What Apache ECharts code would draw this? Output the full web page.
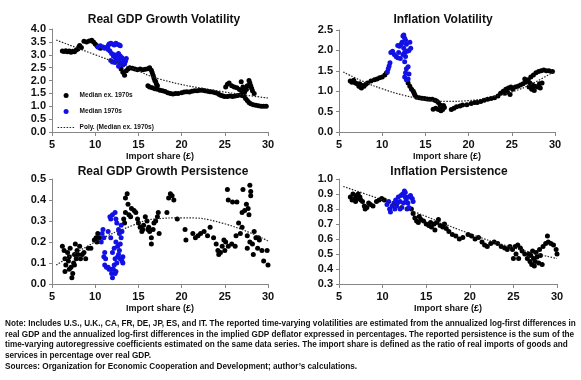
<!DOCTYPE html>
<html><head><meta charset="utf-8">
<script src="https://cdn.jsdelivr.net/npm/echarts@6/dist/echarts.min.js"></script>
<style>html,body{margin:0;padding:0;background:#fff}#c{width:581px;height:380px}</style>
</head><body><div id="c"></div>
<script>
// ---------- DATA (x = import share %, y = value) ----------
var xTicks = [5, 10, 15, 20, 25, 30];
var titles = ['Real GDP Growth Volatility', 'Inflation Volatility', 'Real GDP Growth Persistence', 'Inflation Persistence'];
var seriesNames = ['Median ex. 1970s', 'Median 1970s', 'Poly. (Median ex. 1970s)'];

var gdpVolEx = [[6.2,3.15],[6.4,3.13],[6.6,3.16],[6.8,3.12],[7.0,3.15],[7.2,3.1],[7.4,3.14],[7.6,3.12],[7.8,3.18],[8.0,3.22],[8.1,3.3],[8.2,3.36],[8.4,3.28],[8.7,3.52],[9.0,3.5],[9.3,3.53],[9.6,3.56],[9.8,3.5],[10.0,3.42],[10.2,3.35],[10.4,3.3],[10.6,3.25],[13.0,2.45],[13.2,2.32],[13.4,2.2],[13.6,2.38],[13.8,2.45],[14.0,2.5],[14.3,2.48],[14.6,2.45],[14.9,2.42],[15.2,2.45],[15.5,2.42],[15.8,2.44],[16.1,2.46],[16.3,2.5],[16.5,2.4],[16.6,2.3],[16.7,2.2],[16.8,2.1],[16.9,2.0],[17.0,1.95],[17.1,1.85],[17.2,1.8],[16.1,1.8],[16.3,1.75],[16.6,1.72],[16.9,1.68],[17.2,1.66],[17.5,1.62],[17.8,1.6],[18.1,1.57],[18.4,1.52],[18.7,1.5],[19.0,1.48],[19.3,1.5],[19.6,1.5],[20.0,1.52],[20.3,1.55],[20.6,1.56],[20.9,1.55],[21.2,1.58],[21.5,1.6],[21.8,1.6],[22.1,1.62],[22.4,1.62],[22.7,1.6],[23.0,1.58],[23.3,1.56],[23.6,1.55],[23.9,1.52],[24.2,1.5],[24.4,1.45],[24.6,1.42],[24.8,1.4],[25.0,1.38],[25.3,1.38],[25.6,1.4],[25.9,1.38],[26.2,1.4],[26.5,1.42],[26.8,1.45],[27.0,1.42],[25.1,1.75],[25.3,1.85],[25.5,1.9],[25.8,1.8],[26.1,1.75],[26.4,1.72],[26.7,1.65],[27.0,1.6],[27.3,1.55],[27.5,1.65],[27.6,1.8],[27.8,2.0],[27.9,1.9],[28.0,1.8],[28.1,1.7],[28.2,1.6],[28.4,1.5],[27.2,1.4],[27.4,1.3],[27.6,1.22],[27.8,1.15],[28.0,1.1],[28.3,1.06],[28.6,1.04],[28.9,1.02],[29.2,1.0],[29.5,1.0],[29.8,1.0],[26.9,1.95],[27.1,1.75]];
var gdpVol70 = [[10.3,3.3],[10.6,3.35],[10.9,3.3],[11.1,3.25],[11.3,3.28],[11.5,3.35],[11.6,3.42],[11.8,3.45],[12.0,3.42],[12.2,3.38],[12.4,3.45],[12.6,3.4],[12.8,3.38],[12.9,3.35],[11.7,3.15],[11.9,3.05],[12.1,2.95],[12.3,2.9],[12.5,2.98],[12.7,3.05],[12.9,2.95],[13.1,2.88],[13.3,2.8],[13.5,2.75],[13.4,2.65],[13.2,2.6],[12.9,2.7],[12.6,2.75],[12.3,2.7],[12.0,2.72],[11.8,2.78],[12.4,2.8],[12.8,2.85],[13.0,2.62],[12.7,2.55],[12.2,3.0],[11.5,3.2],[13.6,2.85]];
var gdpVolTrend = [[5.5,3.57],[10,3.0],[14.4,2.45],[17.5,2.05],[23.6,1.63],[30,1.32]];

var infVolEx = [[6.3,1.25],[6.5,1.22],[6.7,1.27],[6.9,1.2],[7.1,1.18],[7.3,1.12],[7.5,1.1],[7.7,1.14],[7.9,1.12],[8.1,1.17],[8.3,1.2],[7.4,1.18],[7.6,1.08],[8.7,1.25],[9.1,1.28],[9.4,1.3],[9.7,1.33],[10.0,1.35],[10.3,1.4],[10.5,1.45],[13.0,1.2],[13.2,1.12],[13.4,1.05],[13.6,1.0],[13.7,0.95],[13.8,0.9],[14.0,0.85],[14.3,0.84],[14.6,0.83],[14.9,0.82],[15.2,0.81],[15.5,0.8],[15.8,0.8],[16.1,0.78],[16.3,0.76],[16.5,0.72],[16.7,0.66],[16.9,0.6],[17.0,0.55],[16.8,0.52],[16.5,0.55],[16.2,0.58],[15.9,0.56],[17.2,0.6],[17.1,0.65],[18.0,0.55],[18.3,0.58],[18.6,0.62],[19.0,0.64],[19.3,0.66],[19.8,0.67],[20.3,0.7],[20.7,0.72],[21.0,0.72],[21.4,0.75],[21.8,0.78],[22.2,0.8],[22.6,0.82],[23.0,0.84],[23.4,0.88],[23.7,0.95],[24.0,1.0],[24.3,1.05],[24.6,1.08],[24.9,1.1],[24.2,0.95],[24.5,0.98],[24.8,0.92],[25.1,1.05],[25.4,1.1],[25.7,1.12],[26.0,1.15],[26.3,1.18],[26.6,1.22],[26.9,1.28],[27.2,1.35],[27.5,1.4],[27.8,1.45],[28.1,1.48],[28.4,1.5],[28.7,1.52],[29.0,1.5],[29.3,1.5],[29.7,1.48],[26.5,1.3],[26.8,1.25],[27.1,1.2],[27.4,1.15],[27.7,1.12],[28.0,1.1],[28.3,1.08],[27.3,1.05],[27.6,1.02],[28.2,1.18],[28.5,1.2],[27.0,1.1]];
var infVol70 = [[10.6,1.47],[10.7,1.55],[10.8,1.62],[10.9,1.7],[11.0,1.95],[11.2,1.98],[11.4,1.9],[11.6,1.85],[11.8,1.82],[11.9,1.95],[12.0,2.1],[12.2,2.15],[12.3,2.2],[12.4,2.35],[12.5,2.38],[12.6,2.3],[12.7,2.25],[12.8,2.15],[12.5,2.05],[12.6,1.95],[12.4,1.9],[12.7,1.85],[12.9,1.98],[13.1,2.0],[13.3,2.05],[13.2,2.2],[12.6,1.72],[12.8,1.55],[12.7,1.45],[12.6,1.35],[12.8,1.28],[13.0,1.3],[13.1,1.42],[13.0,1.6],[11.8,2.12],[12.1,1.8]];
var infVolTrend = [[5.5,1.47],[8,1.22],[10,1.06],[12.5,0.9],[15,0.8],[17.5,0.75],[20,0.77],[22.5,0.85],[25,0.98],[27.5,1.2],[30,1.5]];

var gdpPerEx = [[6.2,0.18],[6.4,0.16],[6.5,0.12],[6.6,0.09],[6.5,0.06],[6.8,0.15],[6.9,0.11],[7.0,0.13],[7.1,0.17],[7.2,0.08],[7.3,0.03],[7.4,0.05],[7.5,0.1],[7.6,0.14],[7.7,0.19],[7.8,0.12],[7.9,0.16],[8.0,0.14],[8.2,0.18],[8.3,0.12],[8.5,0.14],[8.7,0.15],[8.9,0.12],[9.2,0.17],[9.5,0.17],[9.9,0.21],[10.1,0.22],[10.3,0.24],[10.5,0.22],[10.2,0.2],[7.0,0.07],[7.6,0.09],[13.3,0.31],[13.5,0.34],[13.5,0.41],[13.7,0.43],[13.8,0.38],[13.4,0.29],[13.9,0.33],[14.1,0.32],[14.2,0.36],[14.5,0.35],[14.7,0.34],[14.9,0.31],[15.0,0.29],[15.2,0.27],[15.4,0.25],[15.6,0.28],[15.8,0.32],[16.0,0.3],[16.2,0.27],[16.3,0.25],[16.5,0.22],[16.5,0.19],[16.7,0.26],[16.8,0.29],[17.0,0.3],[17.2,0.32],[17.3,0.34],[17.4,0.24],[15.5,0.26],[16.1,0.26],[18.3,0.34],[18.5,0.41],[18.7,0.43],[18.9,0.42],[19.1,0.4],[19.5,0.31],[20.4,0.26],[20.5,0.21],[21.3,0.24],[21.6,0.22],[21.9,0.23],[22.2,0.24],[22.6,0.25],[23.0,0.23],[23.3,0.27],[23.7,0.22],[24.0,0.19],[24.2,0.16],[24.3,0.14],[24.5,0.15],[24.7,0.18],[24.9,0.21],[25.1,0.2],[25.4,0.18],[25.8,0.19],[26.2,0.18],[25.3,0.45],[25.4,0.4],[25.9,0.39],[26.4,0.39],[26.6,0.29],[26.8,0.24],[27.0,0.27],[27.1,0.45],[27.0,0.34],[27.3,0.35],[27.5,0.38],[27.7,0.36],[27.9,0.47],[28.0,0.44],[28.0,0.42],[27.8,0.33],[27.6,0.23],[27.9,0.2],[28.2,0.19],[28.4,0.25],[28.6,0.22],[28.8,0.17],[29.0,0.21],[29.3,0.16],[29.5,0.11],[29.9,0.16],[30.0,0.09],[28.3,0.14],[27.6,0.17],[28.9,0.22],[26.3,0.23],[25.0,0.16]];
var gdpPer70 = [[10.7,0.2],[10.8,0.24],[10.9,0.26],[11.0,0.22],[11.0,0.13],[11.1,0.15],[11.2,0.12],[11.1,0.09],[11.3,0.08],[11.5,0.08],[11.6,0.07],[11.8,0.07],[11.9,0.05],[12.0,0.03],[12.1,0.07],[12.3,0.05],[12.4,0.06],[12.2,0.09],[12.5,0.1],[12.6,0.13],[12.7,0.14],[12.9,0.12],[13.1,0.11],[13.2,0.13],[12.8,0.16],[12.6,0.18],[12.9,0.19],[13.0,0.22],[12.8,0.24],[13.1,0.25],[12.4,0.2],[12.2,0.17],[12.0,0.15],[11.8,0.22],[11.7,0.32],[11.8,0.31],[12.0,0.33],[12.3,0.34],[12.4,0.31],[12.5,0.29],[12.7,0.26],[13.0,0.28],[11.5,0.25],[12.3,0.12],[13.2,0.1]];
var gdpPerTrend = [[5.5,0.09],[10,0.2],[14.4,0.28],[17,0.31],[20,0.315],[24.7,0.29],[30,0.205]];

var infPerEx = [[6.3,0.88],[6.5,0.86],[6.6,0.9],[6.8,0.87],[7.0,0.89],[7.2,0.9],[7.4,0.88],[7.5,0.86],[7.7,0.85],[7.9,0.82],[8.0,0.8],[8.2,0.81],[8.4,0.84],[8.6,0.83],[8.9,0.82],[7.3,0.87],[6.9,0.85],[9.3,0.85],[9.6,0.86],[9.9,0.87],[10.2,0.86],[13.3,0.8],[13.5,0.77],[13.7,0.74],[13.9,0.72],[14.1,0.71],[14.4,0.73],[14.7,0.72],[15.0,0.7],[15.3,0.69],[15.6,0.68],[15.9,0.7],[16.2,0.71],[16.4,0.73],[16.6,0.69],[16.9,0.68],[17.1,0.7],[17.3,0.67],[16.0,0.66],[15.5,0.71],[14.2,0.75],[17.6,0.65],[18.0,0.63],[18.4,0.62],[18.8,0.6],[19.2,0.61],[19.8,0.63],[20.2,0.62],[20.6,0.6],[21.0,0.61],[21.4,0.58],[21.7,0.56],[22.0,0.55],[22.4,0.57],[22.8,0.58],[23.2,0.57],[23.6,0.55],[24.0,0.54],[24.3,0.53],[24.6,0.55],[24.9,0.53],[25.2,0.55],[25.5,0.56],[25.8,0.54],[25.0,0.47],[25.3,0.5],[25.6,0.47],[26.0,0.52],[26.3,0.5],[26.6,0.47],[26.9,0.45],[27.1,0.43],[27.3,0.47],[27.5,0.45],[27.7,0.48],[27.9,0.44],[28.1,0.49],[28.3,0.43],[26.8,0.5],[27.2,0.52],[27.6,0.51],[28.0,0.53],[28.4,0.55],[28.7,0.57],[29.0,0.58],[29.3,0.57],[29.6,0.56],[28.9,0.62],[29.9,0.53],[30.0,0.5],[27.4,0.42],[27.0,0.49]];
var infPer70 = [[10.5,0.83],[10.7,0.85],[10.8,0.8],[10.9,0.78],[11.1,0.82],[11.3,0.84],[11.5,0.86],[11.6,0.82],[11.8,0.88],[12.0,0.85],[12.1,0.89],[12.3,0.9],[12.5,0.92],[12.6,0.88],[12.4,0.84],[12.2,0.81],[12.7,0.86],[12.9,0.84],[13.0,0.88],[13.2,0.89],[13.4,0.87],[13.5,0.85],[13.0,0.81],[12.8,0.8],[12.0,0.8],[11.4,0.8],[12.6,0.91],[11.7,0.84]];
var infPerTrend = [[5.5,0.95],[9.5,0.87],[13.7,0.78],[19.8,0.64],[24.8,0.545],[30,0.47]];

var yMins = [0, 0, 0, 0.3];
var yMaxs = [4, 2.5, 0.5, 1.0];
var yIntervals = [0.5, 0.5, 0.1, 0.1];

var noteLines = [
  'Note: Includes U.S., U.K., CA, FR, DE, JP, ES, and IT. The reported time-varying volatilities are estimated from the annualized log-first differences in',
  'real GDP and the annualized log-first differences in the implied GDP deflator expressed in percentages. The reported persistence is the sum of the',
  'time-varying autoregressive coefficients estimated on the same data series. The import share is defined as the ratio of real imports of goods and',
  'services in percentage over real GDP.',
  'Sources: Organization for Economic Cooperation and Development; author\u2019s calculations.'
];

// ---------- CHART ----------
var FONT = "'Liberation Sans', Arial, sans-serif";
var exSets = [gdpVolEx, infVolEx, gdpPerEx, infPerEx];
var s70Sets = [gdpVol70, infVol70, gdpPer70, infPer70];
var trendSets = [gdpVolTrend, infVolTrend, gdpPerTrend, infPerTrend];
var grids = [
  {left: 52, top: 29, width: 216, height: 103},
  {left: 339, top: 30, width: 216, height: 102},
  {left: 52, top: 179, width: 216, height: 105},
  {left: 339, top: 179, width: 218, height: 105}
];
var titleCenters = [[159, 9], [438, 9], [158, 161], [444, 161]];
var axisColor = '#868686';

var xAxes = [], yAxes = [], series = [], titleArr = [];
for (var i = 0; i < 4; i++) {
  xAxes.push({
    gridIndex: i, type: 'value', min: xTicks[0], max: xTicks[xTicks.length - 1], interval: 5,
    axisLine: {show: true, lineStyle: {color: axisColor, width: 1}},
    axisTick: {show: true, length: 4, lineStyle: {color: axisColor}},
    splitLine: {show: false},
    axisLabel: {fontFamily: FONT, fontWeight: 'bold', fontSize: 11, color: '#111', margin: 7},
    name: 'Import share (\u00a3)', nameLocation: 'middle', nameGap: 20,
    nameTextStyle: {fontFamily: FONT, fontWeight: 'bold', fontSize: 9, color: '#111'}
  });
  yAxes.push({
    gridIndex: i, type: 'value', min: yMins[i], max: yMaxs[i], interval: yIntervals[i],
    axisLine: {show: true, lineStyle: {color: axisColor, width: 1}},
    axisTick: {show: true, length: 3, lineStyle: {color: axisColor}},
    splitLine: {show: false},
    axisLabel: {fontFamily: FONT, fontWeight: 'bold', fontSize: 11, color: '#111', margin: 6,
      formatter: function (v) { return v.toFixed(1); }}
  });
  series.push({
    name: seriesNames[0], type: 'scatter', xAxisIndex: i, yAxisIndex: i,
    data: exSets[i], symbolSize: 5, itemStyle: {color: '#000', opacity: 1}
  });
  series.push({
    name: seriesNames[1], type: 'scatter', xAxisIndex: i, yAxisIndex: i,
    data: s70Sets[i], symbolSize: 5, itemStyle: {color: '#1111e6', opacity: 1}
  });
  series.push({
    name: seriesNames[2], type: 'line', xAxisIndex: i, yAxisIndex: i,
    data: trendSets[i], smooth: true, symbol: 'none', showSymbol: false, silent: true,
    itemStyle: {color: '#222'},
    lineStyle: {type: [1.5, 1.5], width: 1.2, color: '#222'}, z: 3
  });
  titleArr.push({
    text: titles[i], left: titleCenters[i][0], top: titleCenters[i][1], textAlign: 'center',
    textStyle: {fontFamily: FONT, fontWeight: 'bold', fontSize: 12, color: '#111'}
  });
}

var graphics = noteLines.map(function (t, k) {
  return {type: 'text', left: 5, top: 320 + k * 10.6,
    style: {text: t, fontFamily: FONT, fontWeight: 'bold', fontSize: 8.2, fill: '#111'}};
});

var chart = echarts.init(document.getElementById('c'), null, {renderer: 'canvas'});
chart.setOption({
  animation: false,
  backgroundColor: '#fff',
  title: titleArr,
  grid: grids,
  xAxis: xAxes,
  yAxis: yAxes,
  legend: {
    orient: 'vertical', left: 57, top: 92, padding: 0, itemGap: 9, itemWidth: 17, itemHeight: 5,
    textStyle: {fontFamily: FONT, fontWeight: 'bold', fontSize: 6.5, color: '#111'},
    data: [
      {name: seriesNames[0], icon: 'circle'},
      {name: seriesNames[1], icon: 'circle'},
      {name: seriesNames[2], itemStyle: {opacity: 0}, lineStyle: {type: [1.5, 1.5], width: 1.2, color: '#222'}}
    ]
  },
  graphic: graphics,
  series: series
});
</script></body></html>
